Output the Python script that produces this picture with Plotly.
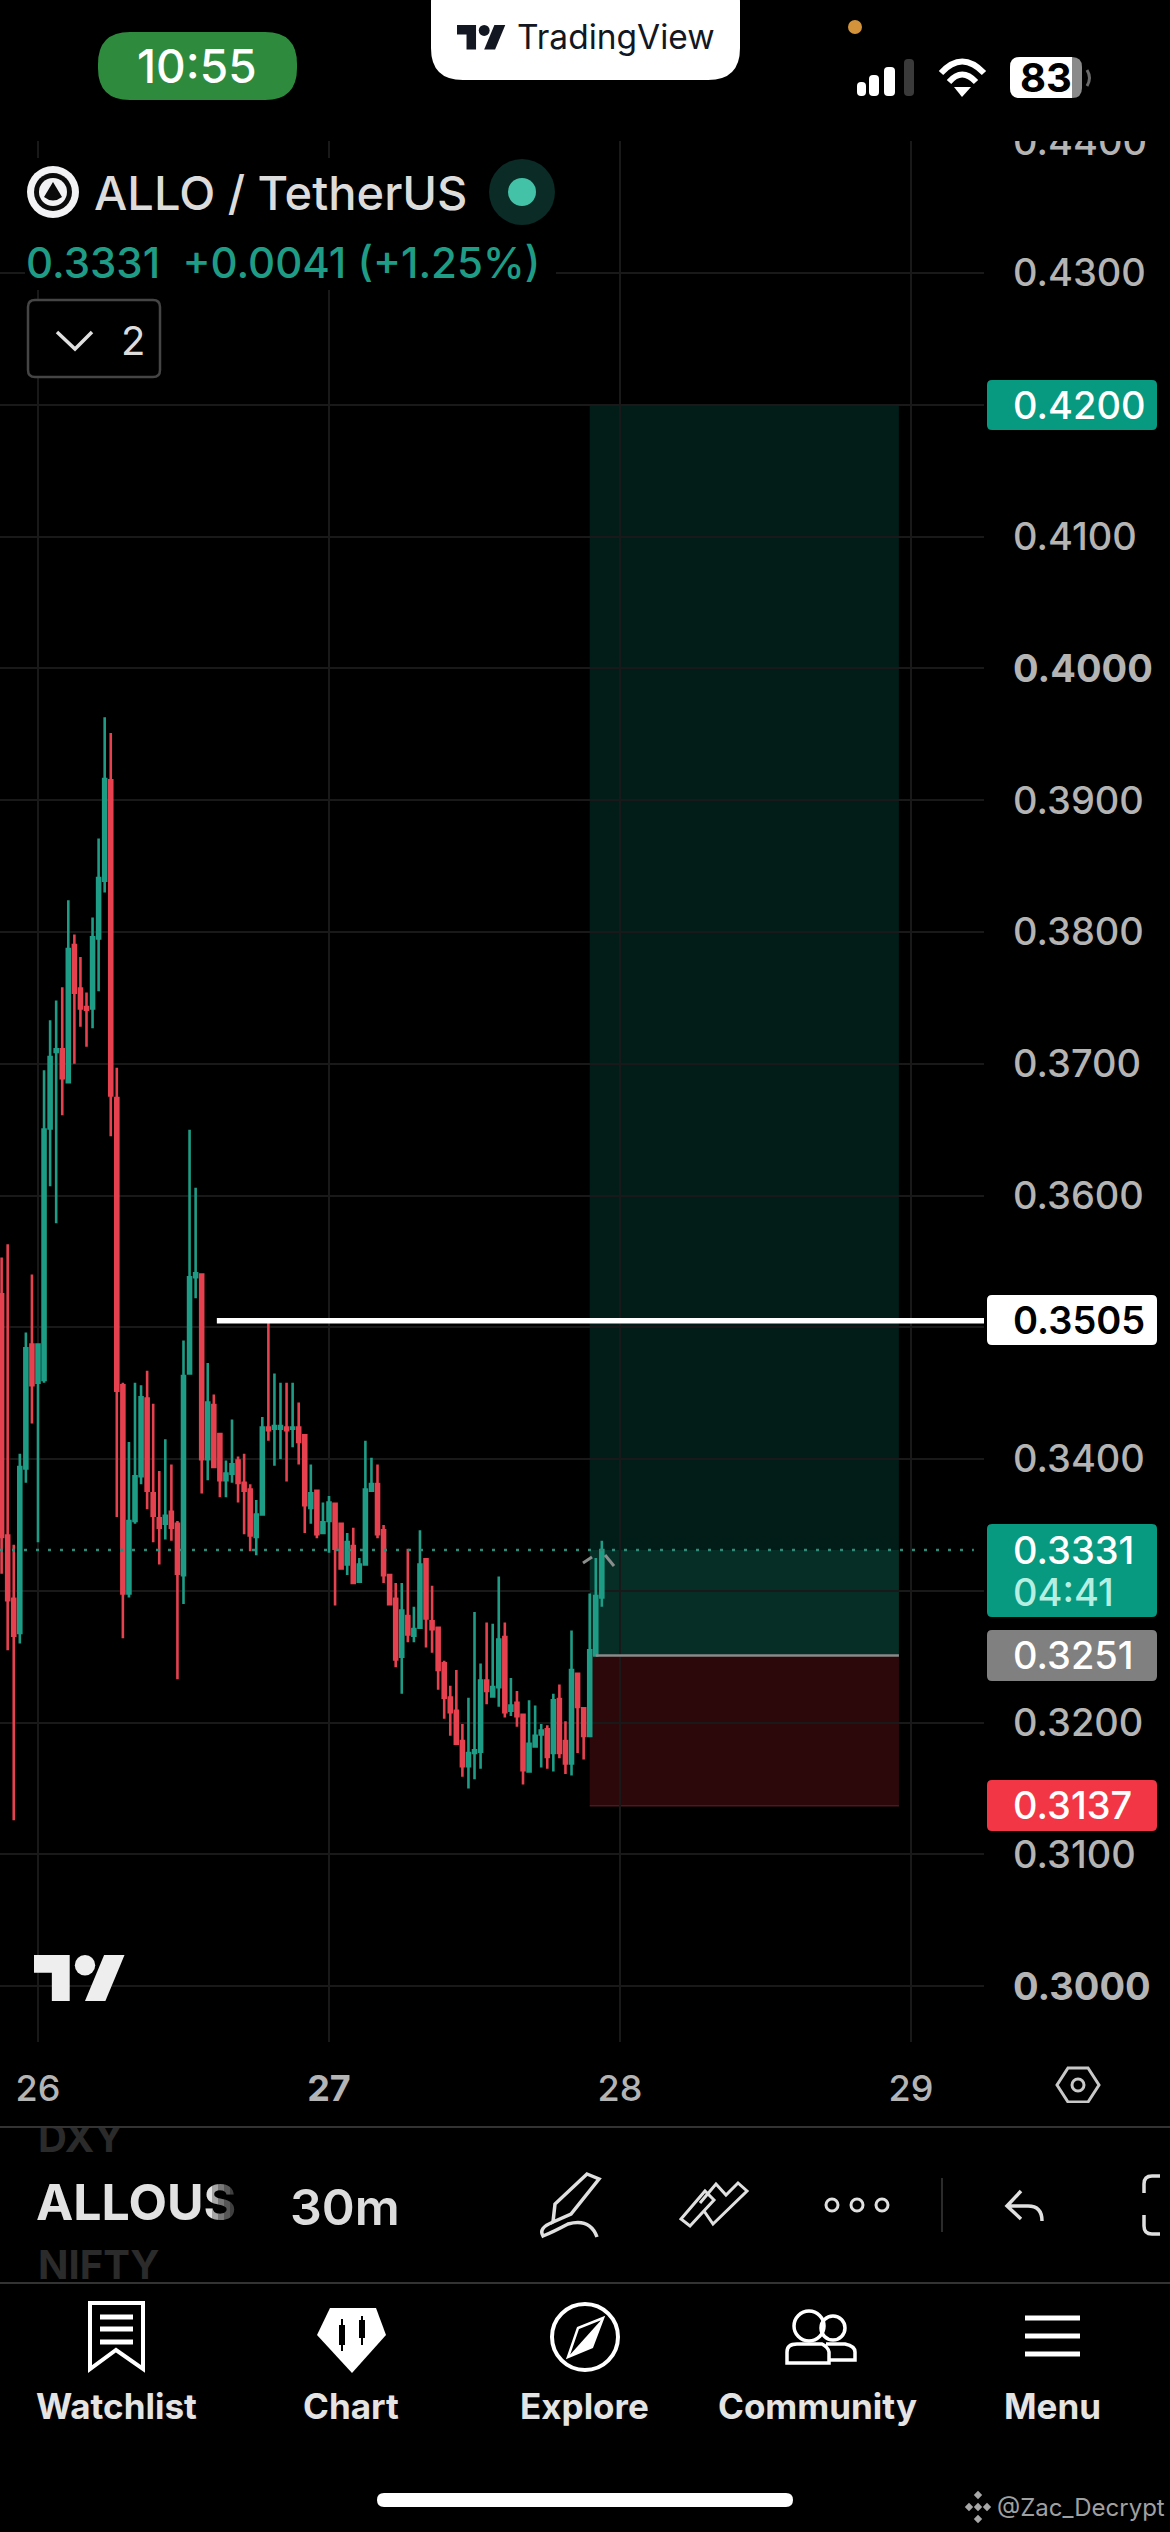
import pandas as pd
import plotly.graph_objects as go

# ---------- chart data ----------
bar_times = pd.date_range("2025-11-25 21:00", periods=100, freq="30min").strftime("%Y-%m-%d %H:%M").tolist()
opens = [.3525,.3342,.3294,.3268,.3393,.3487,.3458,.3460,.3651,.3709,
         .3711,.3686,.3790,.3757,.3743,.3742,.3795,.3839,.3915,.3674,
         .3456,.3298,.3353,.3387,.3446,.3374,.3355,.3351,.3360,.3351,
         .3312,.3465,.3538,.3540,.3400,.3441,.3419,.3384,.3389,.3399,
         .3382,.3377,.3341,.3358,.3424,.3423,.3423,.3424,.3423,.3424,
         .3418,.3363,.3376,.3344,.3353,.3366,.3351,.3320,.3334,.3307,
         .3320,.3376,.3381,.3346,.3312,.3294,.3250,.3281,.3266,.3272,
         .3324,.3277,.3272,.3245,.3219,.3209,.3186,.3167,.3177,.3178,
         .3232,.3220,.3227,.3265,.3209,.3215,.3206,.3163,.3182,.3191,
         .3195,.3177,.3218,.3186,.3169,.3237,.3211,.3190,.3251,.3295]
highs = [.3553,.3563,.3335,.3404,.3496,.3540,.3487,.3695,.3733,.3748,
         .3758,.3824,.3798,.3781,.3754,.3811,.3871,.3963,.3951,.3697,
         .3458,.3413,.3458,.3456,.3467,.3442,.3391,.3415,.3396,.3353,
         .3490,.3650,.3606,.3540,.3473,.3449,.3420,.3399,.3430,.3402,
         .3404,.3381,.3369,.3432,.3505,.3465,.3458,.3458,.3458,.3443,
         .3418,.3396,.3377,.3367,.3372,.3366,.3351,.3344,.3348,.3325,
         .3414,.3401,.3396,.3350,.3312,.3306,.3306,.3332,.3288,.3346,
         .3325,.3304,.3273,.3247,.3228,.3240,.3199,.3219,.3284,.3245,
         .3276,.3275,.3311,.3276,.3234,.3224,.3206,.3217,.3213,.3199,
         .3198,.3222,.3229,.3201,.3270,.3237,.3211,.3298,.3325,.3338]
lows = [.3313,.3255,.3126,.3260,.3382,.3427,.3337,.3458,.3607,.3579,
        .3661,.3686,.3700,.3728,.3713,.3727,.3755,.3830,.3645,.3356,
        .3264,.3295,.3351,.3381,.3362,.3337,.3320,.3339,.3338,.3233,
        .3290,.3465,.3522,.3374,.3384,.3393,.3371,.3371,.3382,.3367,
        .3343,.3330,.3327,.3358,.3414,.3395,.3400,.3383,.3409,.3396,
        .3344,.3351,.3340,.3344,.3329,.3289,.3317,.3312,.3306,.3307,
        .3320,.3376,.3340,.3306,.3290,.3242,.3222,.3261,.3261,.3272,
        .3257,.3253,.3225,.3203,.3190,.3184,.3159,.3150,.3157,.3165,
        .3214,.3219,.3212,.3204,.3205,.3197,.3153,.3163,.3182,.3166,
        .3165,.3163,.3173,.3161,.3160,.3177,.3172,.3190,.3251,.3288]
closes = [.3341,.3293,.3266,.3394,.3484,.3456,.3487,.3650,.3705,.3711,
          .3689,.3787,.3754,.3742,.3741,.3796,.3841,.3916,.3676,.3452,
          .3298,.3353,.3387,.3447,.3376,.3357,.3348,.3357,.3348,.3313,
          .3463,.3538,.3541,.3400,.3443,.3394,.3384,.3389,.3396,.3382,
          .3376,.3342,.3358,.3424,.3422,.3425,.3425,.3422,.3424,.3413,
          .3365,.3374,.3343,.3352,.3367,.3332,.3317,.3337,.3306,.3320,
          .3377,.3381,.3343,.3312,.3290,.3248,.3285,.3267,.3271,.3320,
          .3279,.3271,.3240,.3219,.3208,.3184,.3167,.3177,.3179,.3232,
          .3224,.3227,.3263,.3208,.3213,.3205,.3164,.3184,.3190,.3194,
          .3174,.3217,.3177,.3169,.3240,.3212,.3190,.3255,.3296,.3331]

price_ticks = [.30,.31,.32,.33,.34,.35,.36,.37,.38,.39,.40,.41,.42,.43,.44]
price_labels = ["<b>0.3000</b>","0.3100","0.3200","","0.3400","","0.3600","0.3700",
                "0.3800","0.3900","<b>0.4000</b>","0.4100","","0.4300","0.4400"]
day_ticks = ["2025-11-26","2025-11-27","2025-11-28","2025-11-29"]
day_labels = ["26","<b>27</b>","28","29"]

last_price, target_price, entry_price, stop_price, level_price = 0.3331, 0.4200, 0.3251, 0.3137, 0.3505
pos_start, pos_entry, pos_end = "2025-11-27 21:30", "2025-11-27 22:00", "2025-11-28 23:00"
level_start = "2025-11-26 14:45"
axis_start, axis_end = "2025-11-25 20:52", "2025-11-29 06:01"
dots_end = "2025-11-29 05:11"

# ---------- helpers (screen chrome drawn on a full-page pixel axis) ----------
FONT = "Inter"
shapes, annos = [], []

def rect(x0, y0, x1, y1, fill, layer="above"):
    shapes.append(dict(type="rect", xref="x2", yref="y2", x0=x0, y0=y0, x1=x1, y1=y1,
                       fillcolor=fill, line_width=0, layer=layer))

def rr_path(x0, y0, x1, y1, r, corners="tl tr br bl"):
    c = corners.split()
    p = f"M{x0+(r if 'tl' in c else 0)},{y0} L{x1-(r if 'tr' in c else 0)},{y0} "
    if "tr" in c: p += f"Q{x1},{y0} {x1},{y0+r} "
    p += f"L{x1},{y1-(r if 'br' in c else 0)} "
    if "br" in c: p += f"Q{x1},{y1} {x1-r},{y1} "
    p += f"L{x0+(r if 'bl' in c else 0)},{y1} "
    if "bl" in c: p += f"Q{x0},{y1} {x0},{y1-r} "
    p += f"L{x0},{y0+(r if 'tl' in c else 0)} "
    if "tl" in c: p += f"Q{x0},{y0} {x0+r},{y0} "
    return p + "Z"

def rrect(x0, y0, x1, y1, r, fill, line=None, lw=0, corners="tl tr br bl"):
    shapes.append(dict(type="path", xref="x2", yref="y2", path=rr_path(x0, y0, x1, y1, r, corners),
                       fillcolor=fill, line=dict(color=line or fill, width=lw), layer="above"))

def path(d, color="#ffffff", lw=3.5, fill="rgba(0,0,0,0)"):
    shapes.append(dict(type="path", xref="x2", yref="y2", path=d, fillcolor=fill,
                       line=dict(color=color, width=lw), layer="above"))

def circle(cx, cy, r, fill="rgba(0,0,0,0)", line=None, lw=0):
    shapes.append(dict(type="circle", xref="x2", yref="y2", x0=cx-r, x1=cx+r, y0=cy-r, y1=cy+r,
                       fillcolor=fill, line=dict(color=line or "rgba(0,0,0,0)", width=lw), layer="above"))

def text(x, y, s, size, color="#ffffff", anchor="left", weight=400, font=FONT):
    annos.append(dict(xref="x2", yref="y2", x=x, y=y, text=s, showarrow=False, xanchor=anchor,
                      yanchor="middle", borderpad=0, font=dict(family=font, size=size, color=color, weight=weight)))

def tv_logo(x, y, scale, color):
    def X(v): return x + v * scale
    def Y(v): return y + (v - 4) * scale
    path(f"M{X(14)},{Y(22)} H{X(7)} V{Y(11)} H{X(0)} V{Y(4)} H{X(14)} Z", color, 0, color)
    path(f"M{X(28)},{Y(22)} H{X(20)} L{X(27.5)},{Y(4)} H{X(35.5)} Z", color, 0, color)
    circle(X(20), Y(8), 4 * scale, fill=color)

# ---------- masks & price tags ----------
rect(0, 0, 1170, 141, "#000000")          # hides the upper half of the clipped top label
rect(25, 158, 556, 290, "#000000")        # legend background

def tag(y0, y1, fill):
    rrect(987, y0, 1157, y1, 5, fill)

TAG_SIZE = 38
tag(380, 430, "#089981"); text(1012, 405, f"{target_price:.4f}", TAG_SIZE, "#ffffff", weight=500)
tag(1295, 1345, "#ffffff"); text(1012, 1320, f"{level_price:.4f}", TAG_SIZE, "#000000", weight=600)
tag(1524, 1617, "#089981"); text(1012, 1550, f"{last_price:.4f}", TAG_SIZE, "#ffffff", weight=500); text(1012, 1592, "04:41", TAG_SIZE, "#b5efe2", weight=500)
tag(1630, 1681, "#808080"); text(1012, 1655, f"{entry_price:.4f}", TAG_SIZE, "#ffffff", weight=500)
tag(1780, 1831, "#F23645"); text(1012, 1805, f"{stop_price:.4f}", TAG_SIZE, "#ffffff", weight=500)

# little grey caret round the last bars
path("M583,1563 L592,1557", "#8a8f8e", 3)
path("M605,1555 L614,1566", "#8a8f8e", 3)

# big logo on the chart
tv_logo(34, 1955, 2.55, "#eeeeee")

# ---------- status bar ----------
rrect(98, 32, 297, 100, 32, "#2e8b3e")
text(197, 66, "10:55", 46, "#ffffff", "center", 500)
rrect(431, -30, 740, 80, 32, "#ffffff")
tv_logo(457, 25, 1.36, "#131722")
text(516, 37, "TradingView", 33.5, "#131722")
circle(855, 27, 7, fill="#d2933a")
for bx0, bx1, by, col in [(857, 866, 82, "#ffffff"), (869, 879, 75, "#ffffff"), (884, 895, 67, "#ffffff"), (904, 914, 59, "#3a3a3a")]:
    rrect(bx0, by, bx1, 96, 4, col)
path("M941,73 Q962,50 984,73", "#ffffff", 6)
path("M949,82 Q962,67 976,82", "#ffffff", 6)
path("M954,87 L971,87 L962,97 Z", "#ffffff", 0, "#ffffff")
rrect(1010, 57, 1082, 98, 10, "#8a8a8a")
rrect(1010, 57, 1072, 98, 10, "#ffffff", corners="tl bl")
path("M1087,70 Q1092,78 1087,86", "#6a6a6a", 3)
text(1046, 77, "<b>83</b>", 40, "#000000", "center", 700)

# ---------- legend ----------
circle(53, 192, 26, fill="#f2f2f4")
circle(53, 192, 19, fill="#0b0b0b")
circle(53, 192, 14, fill="#f2f2f4")
path("M53,182 L62,197 Q53,204 44,197 Z", "#0b0b0b", 0, "#0b0b0b")
text(93, 192, "ALLO / TetherUS", 47, "#dcdcdc", weight=500)
circle(522, 192, 33, fill="#0b2b26")
circle(522, 192, 14, fill="#44c2a8")
text(25, 262, "0.3331&#160;&#160;+0.0041 (+1.25%)", 42, "#1f9c85", weight=500)
rrect(28, 300, 160, 377, 7, "#000000", "#454545", 2.5)
path("M57,332 L75,349 L92,332", "#e0e0e0", 3.5)
text(120, 340, "2", 40, "#dddddd")

# ---------- settings hexagon ----------
path("M1068,2068 H1088 L1099,2085 L1088,2102 H1068 L1057,2085 Z", "#c8c8c8", 3)
circle(1078, 2085, 6, line="#c8c8c8", lw=3)

# ---------- toolbar ----------
rect(0, 2126, 1170, 2128, "#333333")
rect(0, 2282, 1170, 2284, "#333333")
for fx in range(212, 242, 6):
    rect(fx, 2175, 250, 2235, "rgba(0,0,0,0.27)")
rect(0, 2103, 1170, 2126, "#000000")     # clip ticker above toolbar
rect(0, 2284, 1170, 2305, "#000000")     # clip ticker below toolbar
text(289, 2207, "30m", 50, "#dcdcdc", weight=600)
path("M587,2174 L599,2179 L571,2214 L553,2222 L555,2204 Z", "#e0e0e0", 3.5)
path("M553,2222 Q538,2228 543,2236 Q553,2232 568,2224 Q590,2218 597,2237", "#e0e0e0", 3.5)
path("M681,2219 L705,2191 L714,2200 L690,2226 Z", "#e0e0e0", 3)
path("M704,2211 L713,2224 L747,2191 L738,2183 L726,2195 L716,2184 L700,2203", "#e0e0e0", 3)
for cx in (832, 857, 882):
    circle(cx, 2205, 6, line="#e0e0e0", lw=3)
rect(941, 2178, 943, 2232, "#2b2b2b")
path("M1021,2191 L1007,2206 L1021,2219 M1007,2206 H1028 Q1042,2206 1042,2221", "#e0e0e0", 3.5)
path("M1160,2176 H1152 Q1144,2176 1144,2184 V2193 M1144,2215 V2226 Q1144,2234 1152,2234 H1160", "#e0e0e0", 3.5)

# ---------- bottom navigation ----------
path("M90,2303 H143 V2369 L116,2350 L90,2369 Z", "#ffffff", 4)
for ly in (2317, 2329, 2342):
    rect(100, ly - 2.5, 133, ly + 2.5, "#ffffff")
path("M330,2308 H376 L386,2335 L352,2373 L317,2335 Z", "#ffffff", 0, "#ffffff")
rect(339, 2325, 345, 2345, "#000000"); rect(341, 2319, 343, 2351, "#000000")
rect(359, 2320, 365, 2338, "#000000"); rect(361, 2316, 363, 2345, "#000000")
circle(585, 2337, 33, line="#ffffff", lw=4)
path("M603,2318 L592,2347 L568,2357 L578,2328 Z", "#ffffff", 2.5, "rgba(0,0,0,0)")
path("M603,2318 L592,2347 L568,2357 Z", "#ffffff", 0, "#ffffff")
circle(809, 2326, 15, line="#ffffff", lw=3.5)
circle(833, 2328, 12, line="#ffffff", lw=3.5)
path("M787,2363 V2352 Q787,2344 797,2344 H822 Q828,2347 829,2352 V2363 Z", "#ffffff", 3.5)
path("M829,2360 H855 V2352 Q855,2346 845,2344 H826", "#ffffff", 3.5)
for ly in (2318, 2336, 2354):
    rect(1025, ly - 2.5, 1080, ly + 2.5, "#ffffff")
for label, cx in [("Watchlist", 116), ("Chart", 351), ("Explore", 584), ("Community", 817), ("Menu", 1052)]:
    text(cx, 2406, label, 35, "#e4e4e4", "center", 700)
rrect(377, 2493, 793, 2507, 7, "#ffffff")

# ---------- watermark ----------
for dx, dy in [(0, -12), (-9, 0), (9, 0), (0, 12), (0, 0)]:
    s = 4.2
    path(f"M{978+dx},{2507+dy-s} L{978+dx+s},{2507+dy} L{978+dx},{2507+dy+s} L{978+dx-s},{2507+dy} Z", "#a8a8a8", 0, "#a8a8a8")
text(996, 2507, "@Zac_Decrypt", 24, "#a0a0a0")

# ---------- position zones ----------
zones = [(last_price, target_price, "rgba(9,105,88,0.27)"),
         (entry_price, last_price, "rgba(14,115,96,0.40)"),
         (stop_price, entry_price, "rgba(150,28,38,0.30)")]
zone_shapes = [dict(type="rect", xref="x", yref="y", x0=pos_start, x1=pos_end, y0=a, y1=b,
                    fillcolor=c, line_width=0, layer="below") for a, b, c in zones]
zone_shapes.append(dict(type="line", xref="x", yref="y", x0=pos_start, x1=pos_end, y0=stop_price, y1=stop_price,
                        line=dict(color="#4a1b1e", width=1.5), layer="below"))

# ---------- figure ----------
fig = go.Figure()
fig.add_trace(go.Candlestick(
    x=bar_times, open=opens, high=highs, low=lows, close=closes, whiskerwidth=0,
    increasing=dict(line=dict(color="#1E9C85", width=2.6), fillcolor="#1E9C85"),
    decreasing=dict(line=dict(color="#E5414F", width=2.6), fillcolor="#E5414F"),
    hoverinfo="skip", showlegend=False))
fig.add_trace(go.Scatter(x=[axis_start, dots_end], y=[last_price, last_price], mode="lines",
                         line=dict(color="#2f8a78", width=2.5, dash="3px,9px"), hoverinfo="skip", showlegend=False))
fig.add_trace(go.Scatter(x=[pos_entry, pos_end], y=[entry_price, entry_price], mode="lines",
                         line=dict(color="#8a8a8a", width=2.5), hoverinfo="skip", showlegend=False))
fig.add_trace(go.Scatter(x=[level_start, axis_end], y=[level_price, level_price], mode="lines",
                         line=dict(color="#ffffff", width=5.5), hoverinfo="skip", showlegend=False))
# ticker strip text lives on the pixel axis so the toolbar masks can clip it
fig.add_trace(go.Scatter(x=[38, 38], y=[2142, 2269], mode="text", text=["DXY", "NIFTY"],
                         textposition="middle right",
                         textfont=dict(family=FONT, size=40, color="#2b2b2b", weight=700),
                         xaxis="x2", yaxis="y2", hoverinfo="skip", showlegend=False))
fig.add_trace(go.Scatter(x=[36], y=[2207], mode="text", text=["ALLOUS"], textposition="middle right",
                         textfont=dict(family=FONT, size=50, color="#e2e2e2", weight=700),
                         xaxis="x2", yaxis="y2", hoverinfo="skip", showlegend=False))

fig.update_layout(
    width=1170, height=2532, margin=dict(l=0, r=0, t=0, b=0),
    paper_bgcolor="#000000", plot_bgcolor="rgba(0,0,0,0)", showlegend=False,
    xaxis=dict(domain=[0, 984 / 1170], range=[axis_start, axis_end], type="date",
               tickmode="array", tickvals=day_ticks, ticktext=day_labels, ticklen=0,
               showgrid=True, gridcolor="#191919", gridwidth=2, zeroline=False, showline=False,
               rangeslider=dict(visible=False), ticklabelstandoff=22, automargin=False,
               tickfont=dict(family=FONT, size=36, color="#b4b4b4", weight=500), anchor="y", fixedrange=True),
    yaxis=dict(domain=[(2532 - 2042) / 2532, (2532 - 141) / 2532], range=[0.29577, 0.44002], side="right",
               tickmode="array", tickvals=price_ticks, ticktext=price_labels, ticklen=0,
               showgrid=True, gridcolor="#191919", gridwidth=2, zeroline=False, showline=False,
               ticklabelstandoff=28, automargin=False,
               tickfont=dict(family=FONT, size=38, color="#b4b4b4", weight=500), anchor="x", fixedrange=True),
    xaxis2=dict(domain=[0, 1], range=[0, 1170], visible=False, anchor="y2", fixedrange=True),
    yaxis2=dict(domain=[0, 1], range=[2532, 0], visible=False, anchor="x2", fixedrange=True),
    shapes=zone_shapes + shapes,
    annotations=annos,
)

fig.write_html("out.html", config=dict(displayModeBar=False),
               post_script="document.body.style.margin='0';document.body.style.background='#000';document.body.style.overflow='hidden';")
